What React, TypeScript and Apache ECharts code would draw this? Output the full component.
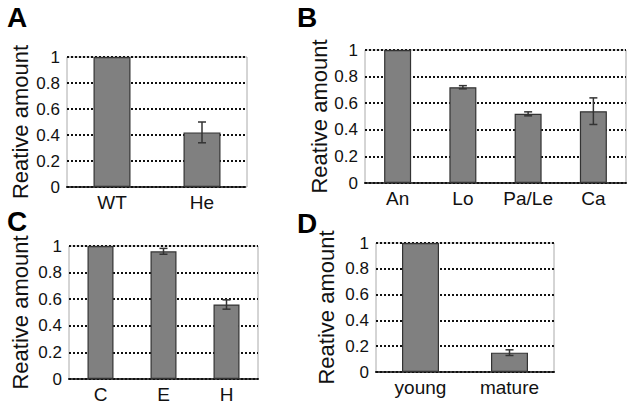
import React, { useEffect, useRef } from "react";
import * as echarts from "echarts";

const catsA = ["WT", "He"];
const valsA = [1, 0.42];
const errsA = [0, 0.08];

const catsB = ["An", "Lo", "Pa/Le", "Ca"];
const valsB = [1, 0.72, 0.52, 0.54];
const errsB = [0, 0.012, 0.015, 0.1];

const catsC = ["C", "E", "H"];
const valsC = [1, 0.96, 0.56];
const errsC = [0, 0.022, 0.035];

const catsD = ["young", "mature"];
const valsD = [1, 0.15];
const errsD = [0, 0.022];

const yTicks = [0, 0.2, 0.4, 0.6, 0.8, 1];
const yTitle = "Reative amount";
const panelLetters = ["A", "B", "C", "D"];

const FONT = "'Liberation Sans', Arial, sans-serif";

export default function App() {
  const ref = useRef<HTMLDivElement>(null);
  useEffect(() => {
    if (!ref.current) return;
    const chart = echarts.init(ref.current, undefined, { renderer: "svg" });
    const panels = [
      { cats: catsA, vals: valsA, errs: errsA, grid: { left: 67, top: 57, width: 180, height: 130 }, bw: 37, gap: 36, letter: { left: 7, top: 3 } },
      { cats: catsB, vals: valsB, errs: errsB, grid: { left: 365, top: 50, width: 261, height: 133 }, bw: 27, gap: 35, letter: { left: 297, top: 3 } },
      { cats: catsC, vals: valsC, errs: errsC, grid: { left: 69, top: 246, width: 189, height: 133 }, bw: 26, gap: 38, letter: { left: 7, top: 207 } },
      { cats: catsD, vals: valsD, errs: errsD, grid: { left: 376, top: 243, width: 178, height: 129 }, bw: 37, gap: 39, letter: { left: 297, top: 209 } },
    ];
    const grids: any[] = [];
    const xAxes: any[] = [];
    const yAxes: any[] = [];
    const series: any[] = [];
    const titles: any[] = [];
    panels.forEach((p, i) => {
      grids.push({
        ...p.grid,
        show: true,
        borderColor: "#aaa",
        borderWidth: 1,
        backgroundColor: "#fff",
        containLabel: false,
      });
      xAxes.push({
        type: "category",
        gridIndex: i,
        data: p.cats,
        axisLine: { show: true, lineStyle: { color: "#111", type: [2, 2], width: 2 } },
        axisTick: { show: false },
        axisLabel: { color: "#111", fontSize: 19, fontFamily: FONT, margin: 6 },
      });
      yAxes.push({
        type: "value",
        gridIndex: i,
        min: 0,
        max: 1,
        interval: 0.2,
        axisLine: { show: false },
        axisTick: { show: false },
        axisLabel: {
          color: "#111",
          fontSize: 17,
          fontFamily: FONT,
          margin: 7,
          formatter: (v: number) => {
            const t = yTicks.find((x) => Math.abs(x - v) < 1e-6);
            return t === undefined ? "" : String(t);
          },
        },
        splitLine: { show: true, lineStyle: { color: "#111", type: [2, 2], width: 2 } },
        name: yTitle,
        nameLocation: "middle",
        nameGap: p.gap,
        nameTextStyle: { color: "#111", fontSize: 22, fontFamily: FONT },
      });
      series.push({
        type: "bar",
        xAxisIndex: i,
        yAxisIndex: i,
        data: p.vals,
        barWidth: p.bw,
        itemStyle: { color: "#808080", borderColor: "#333", borderWidth: 1.2 },
        z: 3,
      });
      const errData = p.vals
        .map((v, k) => [k, v - p.errs[k], v + p.errs[k], p.errs[k]])
        .filter((d) => d[3] > 0);
      series.push({
        type: "custom",
        xAxisIndex: i,
        yAxisIndex: i,
        data: errData,
        z: 5,
        renderItem: (params: any, api: any) => {
          const lo = api.coord([api.value(0), api.value(1)]);
          const hi = api.coord([api.value(0), api.value(2)]);
          const cap = 4;
          const style = { stroke: "#333", lineWidth: 1.5, fill: "none" };
          return {
            type: "group",
            children: [
              { type: "line", shape: { x1: hi[0], y1: hi[1], x2: lo[0], y2: lo[1] }, style },
              { type: "line", shape: { x1: hi[0] - cap, y1: hi[1], x2: hi[0] + cap, y2: hi[1] }, style },
              { type: "line", shape: { x1: lo[0] - cap, y1: lo[1], x2: lo[0] + cap, y2: lo[1] }, style },
            ],
          };
        },
      });
      titles.push({
        text: panelLetters[i],
        left: p.letter.left,
        top: p.letter.top,
        padding: 0,
        textStyle: { fontSize: 28, fontWeight: "bold", color: "#000", fontFamily: FONT },
      });
    });
    chart.setOption({
      animation: false,
      backgroundColor: "#fff",
      title: titles,
      grid: grids,
      xAxis: xAxes,
      yAxis: yAxes,
      series,
    });
    return () => chart.dispose();
  }, []);
  return (
    <div
      ref={ref}
      style={{ position: "fixed", left: 0, top: 0, width: 632, height: 405 }}
    />
  );
}
